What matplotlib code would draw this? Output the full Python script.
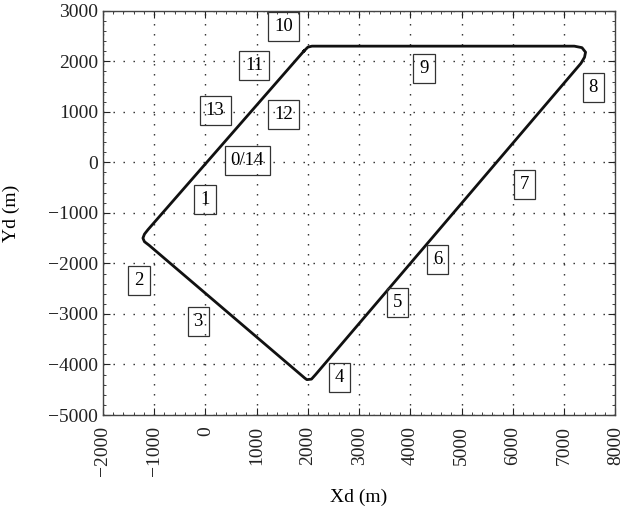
import matplotlib
matplotlib.use("Agg")
import matplotlib.pyplot as plt
from matplotlib.ticker import MultipleLocator

plt.rcParams["font.family"] = ["Liberation Serif", "DejaVu Serif"]

# Trajectory (closed loop) in metres
path_x = [1920, 2000, 2080, 7200, 7350, 7420, 7400, 7330, 2150, 2070, 1980, 1940,
          -1100, -1190, -1220, -1190, -1120, 1920]
path_y = [2200, 2280, 2300, 2300, 2270, 2180, 2080, 1960, -4200, -4290, -4300, -4270,
          -1640, -1570, -1500, -1420, -1330, 2200]

# Waypoint labels and where they sit
wp_names = ["0/14", "1", "2", "3", "4", "5", "6", "7", "8", "9", "10", "11", "12", "13"]
wp_x = [820, -10, -1300, -140, 2620, 3750, 4530, 6230, 7570, 4270, 1520, 950, 1520, 190]
wp_y = [30, -740, -2340, -3150, -4260, -2780, -1930, -430, 1490, 1860, 2680, 1910, 950, 1030]

fig = plt.figure(figsize=(6.24, 5.13), dpi=100)
ax = fig.add_axes([0.165, 0.191, 0.821, 0.788])

ax.plot(path_x, path_y, color="#111111", lw=2.0, solid_joinstyle="round")

for name, x, y in zip(wp_names, wp_x, wp_y):
    ax.text(x, y, name, fontsize=13.5, ha="center", va="center",
            bbox=dict(boxstyle="square,pad=0.32", fc="none", ec="#333333", lw=0.9))

ax.set_xlim(-2000, 8000)
ax.set_ylim(-5000, 3000)
ax.xaxis.set_major_locator(MultipleLocator(1000))
ax.yaxis.set_major_locator(MultipleLocator(1000))
ax.xaxis.set_minor_locator(MultipleLocator(200))
ax.yaxis.set_minor_locator(MultipleLocator(200))
ax.tick_params(which="both", direction="in", top=True, right=True, labelsize=14, colors="#222222")
ax.tick_params(which="major", length=5)
ax.tick_params(which="minor", length=2.5)
ax.tick_params(axis="x", which="major", pad=8)
plt.setp(ax.get_xticklabels(), rotation=90)

ax.grid(True, which="major", color="#222222", lw=1.0, linestyle=(0, (1, 6.2)))
for s in ax.spines.values():
    s.set_color("#444444")
    s.set_linewidth(1.0)

ax.set_xlabel("Xd (m)", fontsize=14)
ax.set_ylabel("Yd (m)", fontsize=14)
ax.xaxis.set_label_coords(0.5, -0.183)
ax.yaxis.set_label_coords(-0.162, 0.5)

fig.savefig("out.png", dpi=100)
